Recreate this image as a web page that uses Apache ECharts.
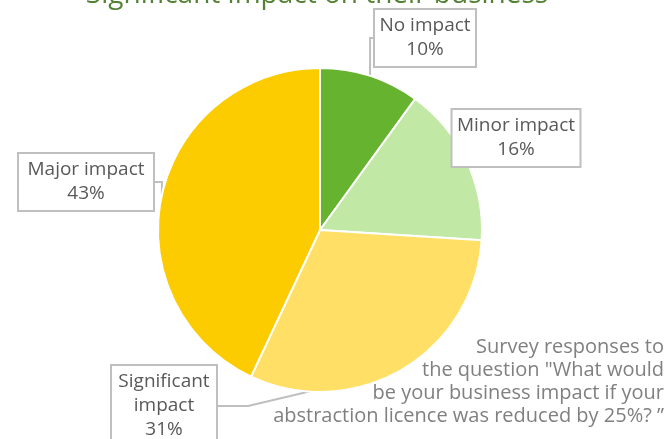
<!DOCTYPE html>
<html>
<head>
<meta charset="utf-8">
<script src="https://cdn.jsdelivr.net/npm/echarts@6/dist/echarts.min.js"></script>
<style>
  html, body { margin: 0; padding: 0; background: #fff; }
  #chart { width: 668px; height: 439px; }
</style>
</head>
<body>
<div id="chart"></div>
<script>
// Survey categories and their share of responses (%)
const categories = ['No impact', 'Minor impact', 'Significant impact', 'Major impact'];
const shares = [10, 16, 31, 43];
const sliceColors = ['#65b32e', '#c1e8a4', '#ffdf66', '#fccc00'];
// Text shown inside each callout box
const labelLines = [['No impact'], ['Minor impact'], ['Significant', 'impact'], ['Major impact']];

const titleText = 'Significant impact on their business';
const noteLines = [
  'Survey responses to',
  'the question "What would',
  'be your business impact if your',
  'abstraction licence was reduced by 25%? \u201d'
];

const FONT = '"Open Sans", sans-serif';

// Callout box layout: centre and inner text width
const calloutPos = [
  { x: 425, y: 38 },
  { x: 516, y: 138 },
  { x: 164, y: 406 },
  { x: 86, y: 182 }
];
const calloutWidth = [84, 111, 88, 118];

const chart = echarts.init(document.getElementById('chart'), null, { renderer: 'canvas' });

chart.setOption({
  backgroundColor: '#ffffff',
  animation: false,
  graphic: [
    {
      type: 'text',
      x: 317,
      y: 9,
      z: 100,
      style: {
        text: titleText,
        font: '28px ' + FONT,
        fill: '#548235',
        align: 'center',
        verticalAlign: 'bottom'
      }
    },
    {
      type: 'text',
      x: 664,
      y: 336,
      z: 100,
      style: {
        text: noteLines.join('\n'),
        font: '20px ' + FONT,
        lineHeight: 23,
        fill: '#808080',
        align: 'right',
        verticalAlign: 'top'
      }
    }
  ],
  series: [{
    type: 'pie',
    center: [320, 230],
    radius: 162,
    startAngle: 90,
    clockwise: true,
    itemStyle: { borderColor: '#ffffff', borderWidth: 2 },
    data: categories.map((name, i) => ({
      name,
      value: shares[i],
      itemStyle: { color: sliceColors[i] },
      label: { width: calloutWidth[i] }
    })),
    label: {
      show: true,
      position: 'outside',
      overflow: 'none',
      formatter: p => labelLines[p.dataIndex].join('\n') + '\n' + p.value + '%',
      fontFamily: FONT,
      fontSize: 19,
      lineHeight: 24,
      color: '#595959',
      align: 'center',
      backgroundColor: '#ffffff',
      borderColor: '#bfbfbf',
      borderWidth: 2,
      padding: [4, 8, 4, 8]
    },
    labelLine: {
      show: true,
      lineStyle: { color: '#bfbfbf', width: 2 }
    },
    labelLayout: p => ({
      x: calloutPos[p.dataIndex].x,
      y: calloutPos[p.dataIndex].y,
      align: 'center',
      verticalAlign: 'middle'
    })
  }]
});
</script>
</body>
</html>
